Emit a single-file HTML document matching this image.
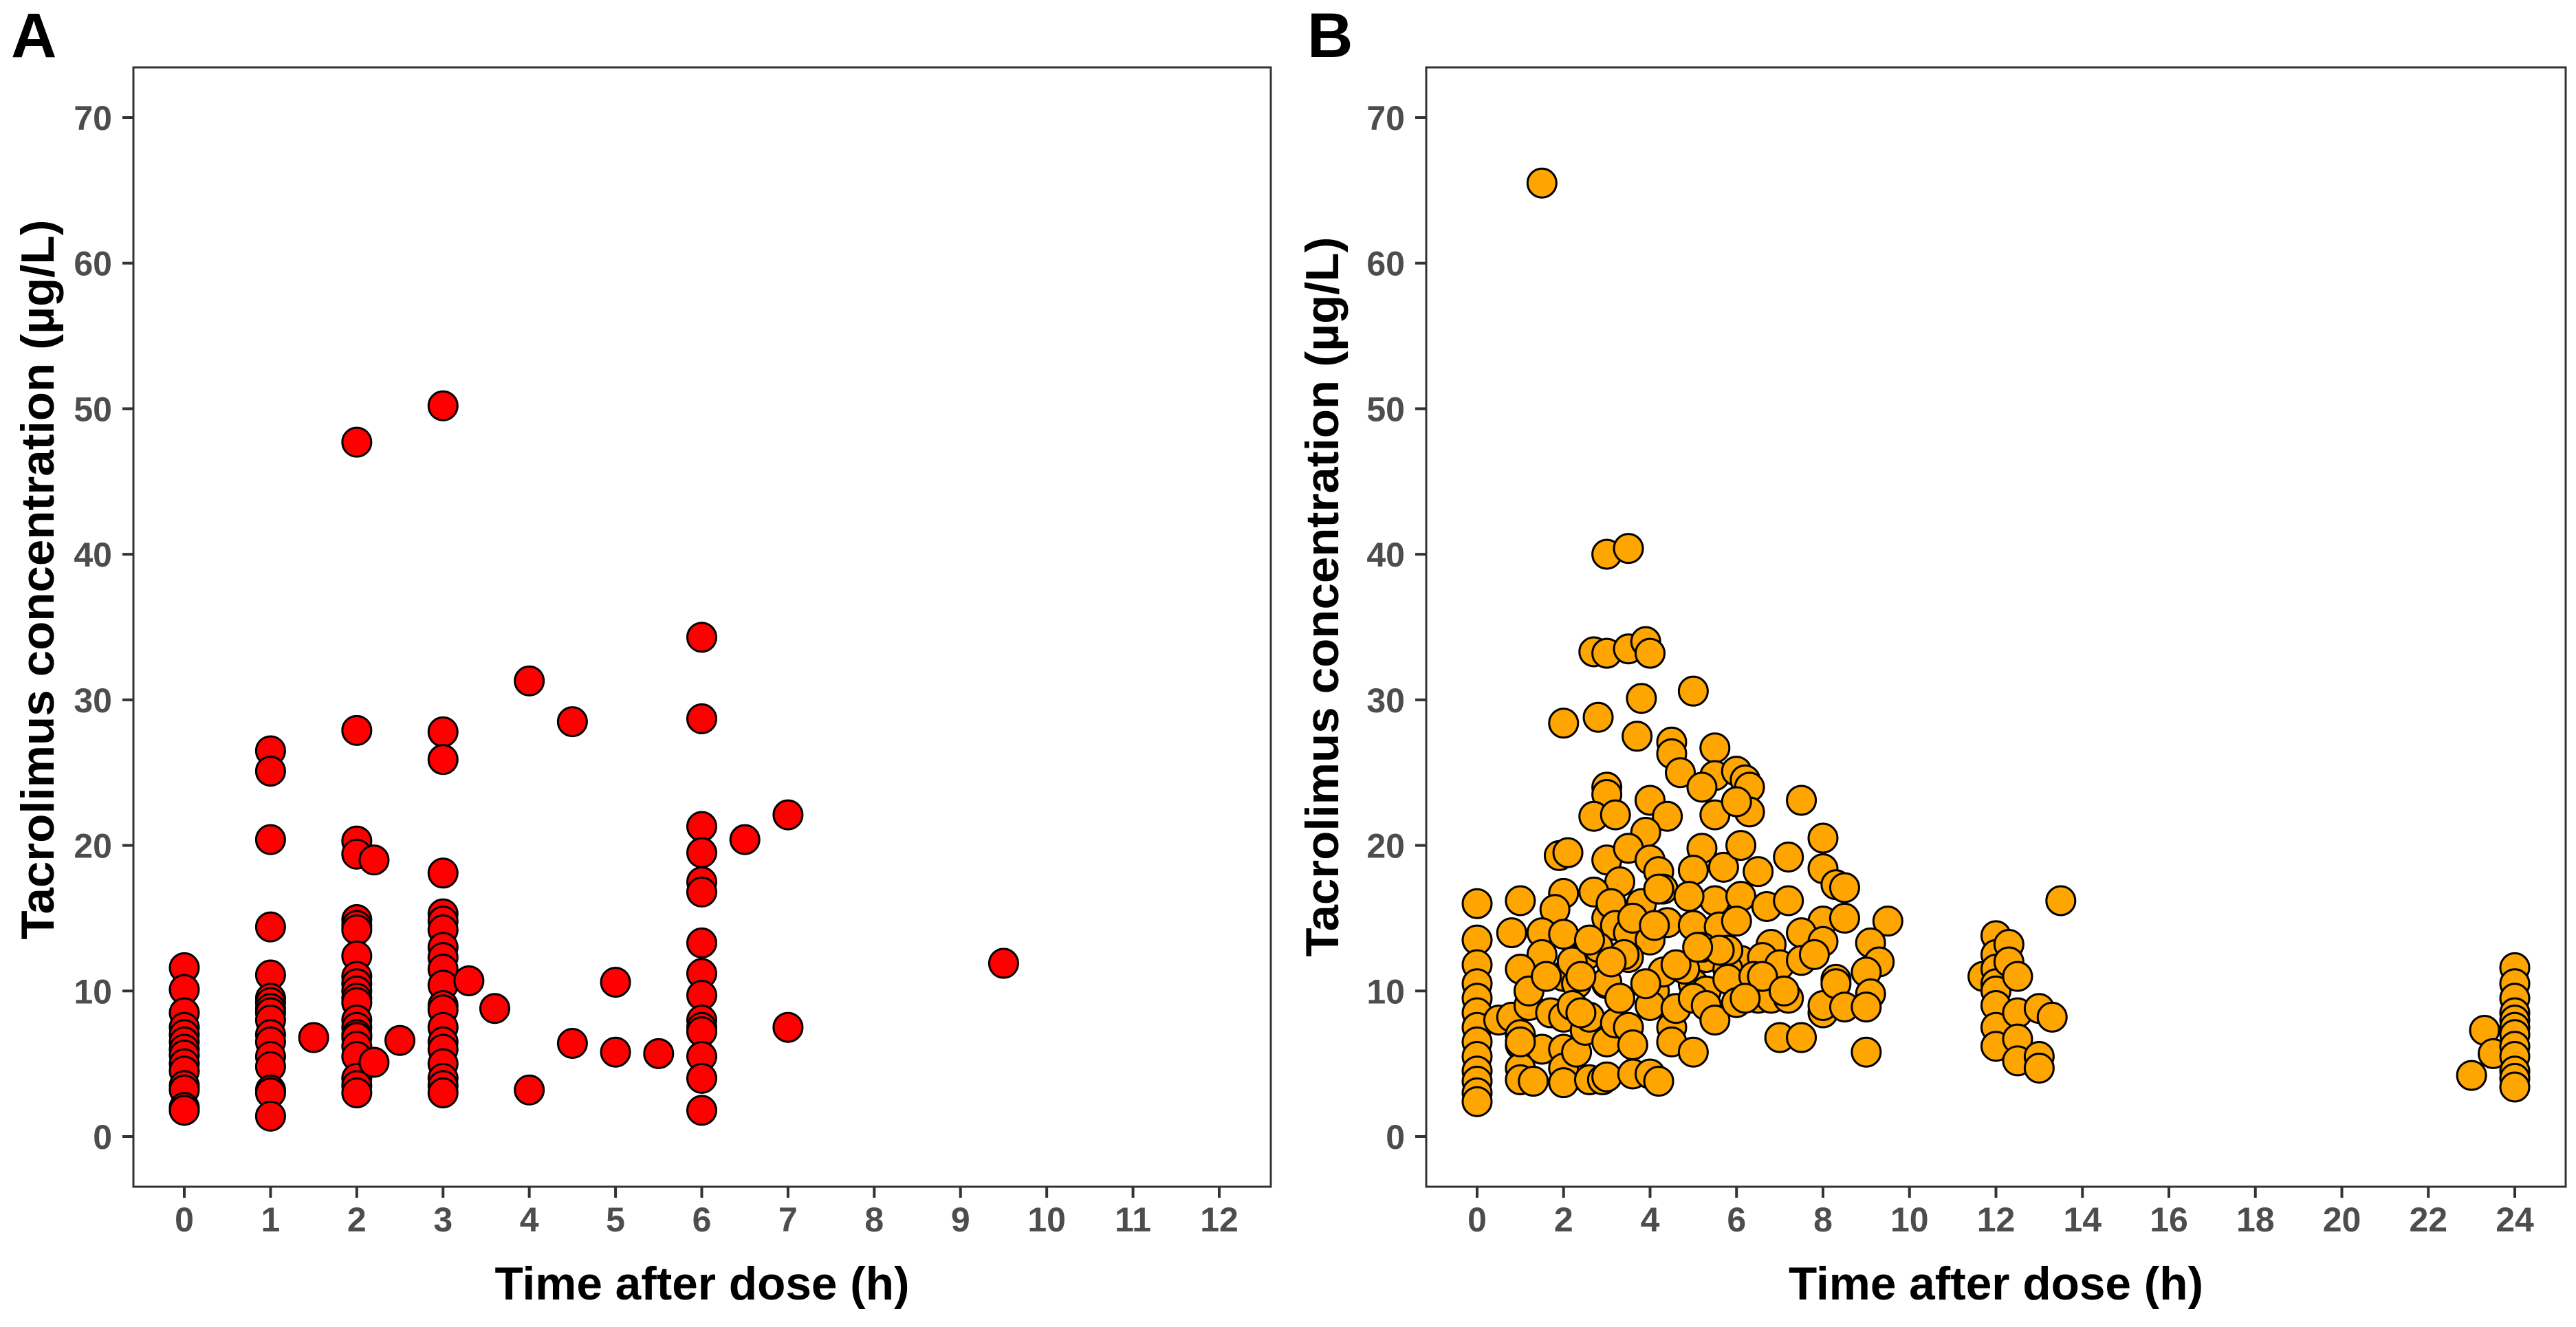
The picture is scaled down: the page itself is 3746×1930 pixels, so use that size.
<!DOCTYPE html>
<html><head><meta charset="utf-8"><style>
html,body{margin:0;padding:0;background:#fff;}
svg{display:block;font-family:"Liberation Sans",Arial,sans-serif;}
</style></head><body>
<svg id="chart" width="3746" height="1930" viewBox="0 0 3746 1930" xmlns="http://www.w3.org/2000/svg">
<rect width="3746" height="1930" fill="#fff"/>
<g id="gA"></g>
<g id="gB"></g>
</svg>
<script>
// Panel A data
const timeA = [0,0,0,0,0,0,0,0,0,0,0,0,0,0,
 1,1,1,1,1,1,1,1,1,1,1,1,1,1,1,1,1,
 1.5,
 2,2,2,2,2,2,2,2,2,2,2,2,2,2,2,2,2,2,2,2,2,2,
 2.2,2.2,2.5,
 3,3,3,3,3,3,3,3,3,3,3,3,3,3,3,3,3,3,3,3,
 3.3,3.6,4,4,4.5,4.5,5,5,5.5,
 6,6,6,6,6,6,6,6,6,6,6,6,6,6,6,
 6.5,7,7,9.5];
const concA = [11.6,10.1,8.5,7.5,7,6.5,6,5.6,5,4.5,3.5,3.2,2,1.8,
 26.5,25.1,20.4,14.4,11.1,9.5,9.2,8.8,8.5,8,7,6.5,5.5,4.8,3.2,3,1.4,
 6.8,
 47.7,27.9,20.3,19.4,14.9,14.5,14.2,12.4,11,10.5,10,9.5,9.2,8,7.5,7,6.8,6.2,5.5,4,3.5,3,
 19,5.1,6.6,
 50.2,27.8,25.9,18.1,15.3,14.8,14.2,13,12.3,11.5,10.4,9,8.7,7.5,6.5,6,5,4,3.5,3,
 10.7,8.8,31.3,3.2,28.5,6.4,10.6,5.8,5.7,
 34.3,28.7,21.3,19.5,17.5,16.8,13.3,11.2,9.7,8,7.5,7.2,5.5,4,1.8,
 20.4,22.1,7.5,11.9];
// Panel B data
const timeB = [1.5,3,3.5,2.7,3,3.5,3.9,4,5,3.8,2.8,2,3.7,4.5,4.5,5.5,4.7,5.5,5.2,6,6.2,6.3,3,3,4,7.5,2.7,3.2,4.4,5.5,6.3,6,3.9,8,1.9,2.1,3,3.5,5.2,5.7,6.1,6.5,7.2,4,4.2,4.3,3.3,2,2.7,5,8,8.3,8.5,0,1,1.8,3,3.1,3.2,5.5,6.1,6.7,7.2,4.4,5,5.6,6,8,8.5,9.5,0,0.8,1.5,2,3.5,4,7.5,8,9.1,6.8,1.5,2.5,3.5,5.3,6.1,6.6,7,7.5,9.3,0,1,2,2.3,3,4.1,4.3,5,5.3,5.8,6.3,8.3,9,9.1,
 0,0,0,0,0,0,0,0,0,0,0.5,0.8,1,1,1,1,1.2,1.3,1.5,1.7,2,2,2,2,2.3,2.5,2.6,2.6,2.9,3,3,3,3.2,3.3,3.5,3.6,3.6,4,4,4.2,4.5,4.5,4.6,5,5,5.3,5.5,5.8,6,6.5,6.8,7,7.2,7.5,8,8,8.3,8.5,9,9,
 2.2,2.4,2.8,3.4,3.8,4.2,4.8,5.2,5.8,6.4,1.2,1.6,2.6,3.6,4.6,5.6,6.6,7.8,1,2.2,3.1,4.1,5.1,6.2,7.1,2.4,3.9,4.9,
 11.7,12,12,12,12,12,12,12,12,12.3,12.3,12.5,12.5,12.5,12.5,13,13,13,13.3,13.5,
 23,23.3,23.5,24,24,24,24,24,24,24,24,24,24,24,24];
const concB = [65.5,40,40.4,33.3,33.2,33.5,34,33.2,30.6,30.1,28.8,28.4,27.5,27.1,26.3,26.7,25,24.8,24,25.1,24.5,24,24,23.5,23.1,23.1,22,22.1,22,22.1,22.3,23,20.9,20.5,19.3,19.5,19,19.8,19.8,18.5,20,18.2,19.2,19,18.2,17,17.5,16.7,16.8,18.3,18.4,17.3,17.1,16,16.2,15.6,15,16,14.5,16.2,16.5,15.8,16.2,14.7,14.5,14.4,14.8,14.8,15,14.8,13.5,14,14,13.9,14,13.5,14,13.4,13.3,13.2,12.5,12.4,12.3,12.3,12.1,12.3,11.8,12.1,12,11.8,11.5,11,10.5,10.5,10,11.3,10.5,10,11.5,10,10.8,11.3,9.8,
 10.5,9.5,8.5,7.5,6.5,5.5,4.5,3.8,3,2.4,8,8.2,7,6.3,4.7,3.9,9,3.8,6,8.5,8.2,6,4.7,3.7,5.8,7.3,8.2,3.9,3.9,4.1,6.5,10.6,7.8,9.5,7.5,6.3,4.3,4.3,9,3.8,7.5,6.5,8.8,5.8,9.5,9,8,10.8,9.2,9.5,9.5,6.8,9.5,6.8,8.5,9,10.5,8.9,8.9,5.8,
 12,11,13,12.5,16,17,11.5,13,12.8,11,10,11,13.5,15,11.8,12.8,11,12.5,6.5,9,12,14.5,13,9.5,10,8.5,10.5,16.5,
 11,13.8,12.5,11.5,10.5,10,9,7.5,6.2,13.2,12,11,8.5,6.7,5.2,8.8,5.5,4.7,8.2,16.2,
 4.2,7.3,5.7,11.6,10.5,9.5,8.5,8,7.5,7,6.2,5.5,4.5,4,3.4];
const xTicksA = [0,1,2,3,4,5,6,7,8,9,10,11,12];
const xTicksB = [0,2,4,6,8,10,12,14,16,18,20,22,24];
const yTicks = [0,10,20,30,40,50,60,70];

const NS = "http://www.w3.org/2000/svg";
function mk(parent, tag, attrs, text){
  const e = document.createElementNS(NS, tag);
  for (const k in attrs) e.setAttribute(k, attrs[k]);
  if (text !== undefined) e.textContent = text;
  parent.appendChild(e);
  return e;
}
function panel(g, cfg){
  const yScale = v => 1653 + (171 - 1653) * v / 70;
  const xScale = v => cfg.x0 + (cfg.x1 - cfg.x0) * v / cfg.xmax;
  const frame = mk(g, 'rect', {x:cfg.left, y:98, width:cfg.right-cfg.left, height:1726-98, fill:'#fff', stroke:'#333', 'stroke-width':3});
  
  
  yTicks.forEach(t => {
    const y = yScale(t);
    const tk = mk(g, 'line', {x1:cfg.left-16, x2:cfg.left, y1:y, y2:y, stroke:'#333', 'stroke-width':4});
    
    
    const lb = mk(g, 'text', {x:cfg.left-31, y:y+18, 'text-anchor':'end', 'font-size':50, 'font-weight':'bold', fill:'#4d4d4d'}, String(t));
    
    
  });
  cfg.xTicks.forEach(t => {
    const x = xScale(t);
    const tk = mk(g, 'line', {x1:x, x2:x, y1:1726, y2:1742, stroke:'#333', 'stroke-width':4});
    
    
    const lb = mk(g, 'text', {x:x, y:1791, 'text-anchor':'middle', 'font-size':50, 'font-weight':'bold', fill:'#4d4d4d'}, String(t));
    
    
  });
  cfg.xs.forEach((xv, i) => {
    const c = mk(g, 'circle', {cx:xScale(xv), cy:yScale(cfg.ys[i]), r:21, fill:cfg.color, stroke:'#000', 'stroke-width':3});
    
    
  });
  const f2 = mk(g, 'rect', {x:cfg.left, y:98, width:cfg.right-cfg.left, height:1726-98, fill:'none', stroke:'#333', 'stroke-width':3});
  
  
  const xt = mk(g, 'text', {x:(cfg.left+cfg.right)/2, y:1890, 'text-anchor':'middle', 'font-size':68, 'font-weight':'bold', fill:'#000', textLength:603, lengthAdjust:'spacingAndGlyphs'}, 'Time after dose (h)');
  
  
  const yt = mk(g, 'text', {x:0, y:0, 'text-anchor':'middle', 'font-size':68, 'font-weight':'bold', fill:'#000', textLength:1047, lengthAdjust:'spacingAndGlyphs', transform:`translate(${cfg.ytx},${cfg.yty}) rotate(-90)`}, 'Tacrolimus concentration (µg/L)');
  
  
  const pl = mk(g, 'text', {x:cfg.lx, y:83, 'font-size':92, 'font-weight':'bold', fill:'#000'}, cfg.letter);
  
  
}
panel(document.getElementById('gA'), {left:194, right:1848, x0:268, x1:1773, xmax:12, xTicks:xTicksA, xs:timeA, ys:concA, color:'#FF0000', ytx:78, yty:843, lx:16, letter:'A'});
panel(document.getElementById('gB'), {left:2074, right:3731, x0:2148, x1:3657, xmax:24, xTicks:xTicksB, xs:timeB, ys:concB, color:'#FFA500', ytx:1946, yty:868, lx:1901, letter:'B'});
</script>
</body></html>
